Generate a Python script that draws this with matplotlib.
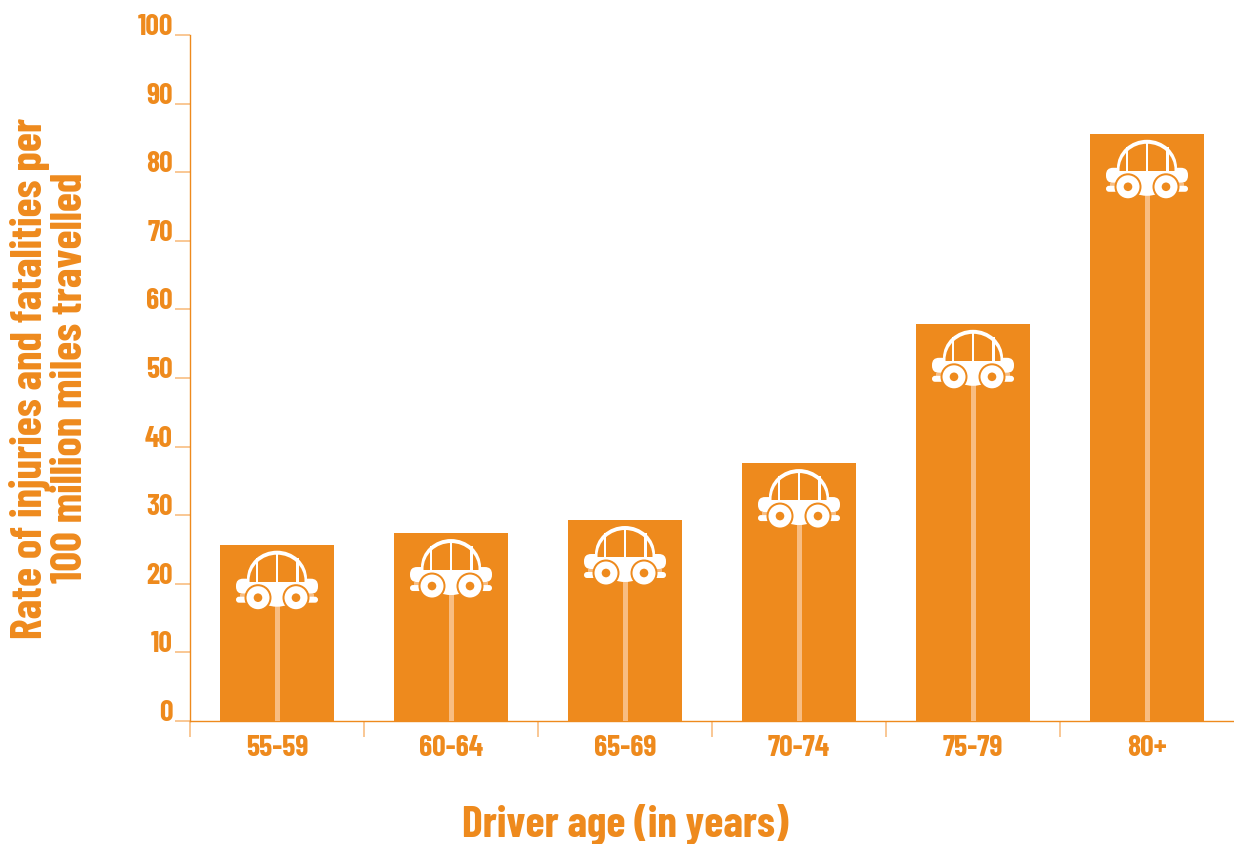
import matplotlib
matplotlib.use('Agg')
import matplotlib.pyplot as plt
from matplotlib.patches import Circle, Ellipse, FancyBboxPatch, Rectangle
from matplotlib.transforms import Affine2D

AGE_GROUPS = ['55-59', '60-64', '65-69', '70-74', '75-79', '80+']
RATES = [25.7, 27.4, 29.3, 37.6, 57.9, 85.6]
Y_TICKS = list(range(0, 101, 10))

ORANGE = '#EE8A1D'
LIGHT = '#F8BD82'
WHITE = '#FFFFFF'
FONT = ['Barlow Condensed', 'Liberation Sans', 'DejaVu Sans']

WIDTH, HEIGHT, DPI = 1234, 844, 100
LEFT, RIGHT, TOP, BOTTOM = 190, 1234, 35, 721


def draw_car(ax, x, top):
    """Draw the car icon and its pole in a bar, working in pixels from the bar's top."""
    px, py = ax.transData.transform((x, top))
    _, base = ax.transData.transform((x, 0))
    place = Affine2D().scale(1, -1).translate(px, py)

    def add(patch, z=3):
        patch.set_transform(place)
        patch.set_zorder(z)
        fig.add_artist(patch)
        return patch

    # pole runs down to the axis
    add(Rectangle((-2.5, 56), 5, py - base - 56, fc=LIGHT, ec='none'))

    # lower trim and bumper
    add(Rectangle((-37, 49), 74, 3, fc=LIGHT, ec='none'), 3.1)
    add(FancyBboxPatch((-41, 52), 82, 6, boxstyle='round,pad=0,rounding_size=3',
                       fc=WHITE, ec='none'), 3.2)

    # body
    add(FancyBboxPatch((-41, 34), 82, 15, boxstyle='round,pad=0,rounding_size=7',
                       fc=WHITE, ec='none'), 3.3)

    # roof: white dome, orange glass cut off flat at the body
    add(Ellipse((0, 34), 60, 56, fc=WHITE, ec='none'), 3.4)
    glass = add(Ellipse((0, 36), 55, 52, fc=ORANGE, ec='none'), 3.5)
    glass.set_clip_path(add(Rectangle((-30, 0), 60, 37, fc='none', ec='none'), 3.5))

    # window pillars
    add(Rectangle((-1.2, 7), 2.4, 31, fc=WHITE, ec='none'), 3.7)
    add(Rectangle((-21.5, 13), 2.4, 25, fc=WHITE, ec='none'), 3.7)
    add(Rectangle((19.1, 13), 2.4, 25, fc=WHITE, ec='none'), 3.7)

    # wheels
    for side in (-19, 19):
        add(Circle((side, 53), 13.5, fc=ORANGE, ec='none'), 3.8)
        add(Circle((side, 53), 11.5, fc=WHITE, ec='none'), 3.9)
        add(Circle((side, 53), 4.3, fc=ORANGE, ec='none'), 4)


fig = plt.figure(figsize=(WIDTH / DPI, HEIGHT / DPI), dpi=DPI)
ax = fig.add_axes([LEFT / WIDTH, 1 - BOTTOM / HEIGHT,
                   (RIGHT - LEFT) / WIDTH, (BOTTOM - TOP) / HEIGHT])

positions = list(range(len(AGE_GROUPS)))
ax.bar(positions, RATES, width=0.66, color=ORANGE, zorder=2)
ax.set_xlim(-0.5, len(AGE_GROUPS) - 0.5)
ax.set_ylim(0, 100)

for side in ('top', 'right'):
    ax.spines[side].set_visible(False)
ax.spines['left'].set_color(ORANGE)
ax.spines['left'].set_linewidth(1)
ax.spines['bottom'].set_color(ORANGE)
ax.spines['bottom'].set_linewidth(1)

# y ticks stick out to the left, labels sit on top of them
ax.set_yticks(Y_TICKS)
ax.set_yticklabels([str(v) for v in Y_TICKS])
ax.tick_params(axis='y', length=10.8, width=1.2, color=LIGHT, pad=1.5)
for label in ax.get_yticklabels():
    label.set_verticalalignment('baseline')
    label.set(family=FONT, weight='bold', size=21.5, color=ORANGE)
ax.get_yticklines()[0].set_color(ORANGE)

# x ticks mark the bin edges, labels go between them
ax.set_xticks([p - 0.5 for p in positions])
ax.set_xticklabels([])
ax.tick_params(axis='x', which='major', length=11.5, width=1.2, color=LIGHT)
ax.get_xticklines()[0].set_color(ORANGE)
ax.set_xticks(positions, minor=True)
ax.set_xticklabels(AGE_GROUPS, minor=True, family=FONT, weight='bold',
                   size=21.5, color=ORANGE)
ax.tick_params(axis='x', which='minor', length=0, pad=10)

fig.text(625 / WIDTH, 1 - 825 / HEIGHT, 'Driver age (in years)', ha='center',
         va='center', family=FONT, weight='bold', size=31.5, color=ORANGE)
fig.text(50 / WIDTH, 1 - 378 / HEIGHT,
         'Rate of injuries and fatalities per\n100 million miles travelled',
         rotation=90, ha='center', va='center', ma='center', family=FONT,
         weight='bold', size=31.5, color=ORANGE, linespacing=1.0)

for p, rate in zip(positions, RATES):
    draw_car(ax, p, rate)

fig.savefig('out.png', dpi=DPI)
